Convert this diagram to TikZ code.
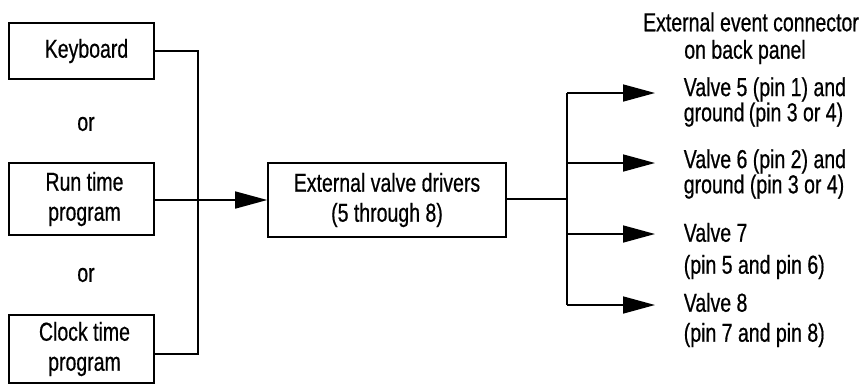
\documentclass[tikz,border=0pt]{standalone}
\usepackage{fontspec}
\setmainfont{Liberation Sans}[FakeStretch=0.75,FakeBold=0.6]
\usetikzlibrary{arrows.meta}
\begin{document}
\begin{tikzpicture}[x=1pt,y=-1pt,
  line width=1.6pt,
  txt/.style={font=\fontsize{26}{30}\selectfont, inner sep=0pt},
  box/.style={draw, line width=1.6pt, font=\fontsize{26}{30}\selectfont, align=center, inner sep=0pt},
  conn/.style={line width=1.6pt},
  arr/.style={line width=1.6pt, -{Triangle[length=32pt,width=17pt]}}
]
\useasboundingbox (0,0) rectangle (864,384);
% source boxes
\node[box, minimum width=145pt, minimum height=56pt] (kb) at (81.5,51) {\hspace*{10pt}Keyboard};
\node[txt] (or1) at (86,124) {or};
\node[box, minimum width=145pt, minimum height=72pt] (rt) at (81.5,199) {\hspace*{6pt}Run time\\\hspace*{6pt}program};
\node[txt] (or2) at (86,275) {or};
\node[box, minimum width=145pt, minimum height=68pt] (ct) at (81.5,349) {\hspace*{6pt}Clock time\\\hspace*{6pt}program};
% driver box
\node[box, minimum width=238pt, minimum height=74pt] (ev) at (387,200) {External valve drivers\\(5 through 8)};
% junctions
\coordinate (jtop) at (198,51);
\coordinate (jbot) at (198,354);
\coordinate (sp) at (567,199);
\coordinate (s5) at (567,93);
\coordinate (s6) at (567,163);
\coordinate (s7) at (567,234);
\coordinate (s8) at (567,305);
\coordinate (t5) at (655,93);
\coordinate (t6) at (655,163);
\coordinate (t7) at (655,234);
\coordinate (t8) at (655,305);
% connectors
\draw[conn] (kb.east |- jtop) -- (jtop) -- (jbot) -- (ct.east |- jbot);
\draw[arr] (rt.east |- ev.west) -- (ev.west);
\draw[conn] (ev.east |- sp) -- (sp);
\draw[conn] (s5) -- (s8);
\draw[arr] (s5) -- (t5);
\draw[arr] (s6) -- (t6);
\draw[arr] (s7) -- (t7);
\draw[arr] (s8) -- (t8);
% labels
\node[txt] (hd1) at (751,22) {External event connector};
\node[txt] (hd2) at (745,52) {on back panel};
\node[txt, anchor=west, align=left, font=\fontsize{26}{24}\selectfont] (v5) at (683,102) {Valve 5 (pin 1) and\\ground\,(pin 3 or 4)};
\node[txt, anchor=west, align=left, font=\fontsize{26}{23}\selectfont] (v6) at (683,174) {Valve 6 (pin 2) and\\ground (pin 3 or 4)};
\node[txt, anchor=west, align=left, font=\fontsize{26}{32}\selectfont] (v7) at (683,251) {Valve 7\\(pin 5 and pin 6)};
\node[txt, anchor=west, align=left, font=\fontsize{26}{30}\selectfont] (v8) at (683,320) {Valve 8\\(pin 7 and pin 8)};
\end{tikzpicture}
\end{document}
